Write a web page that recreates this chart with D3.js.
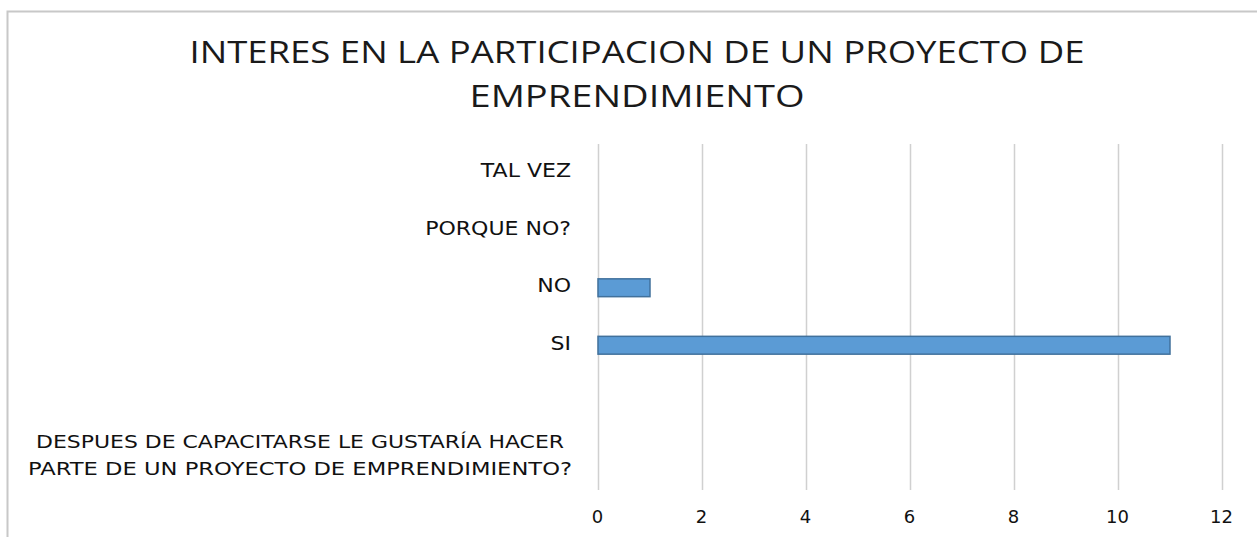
<!DOCTYPE html>
<html><head><meta charset="utf-8">
<script src="https://cdn.jsdelivr.net/npm/d3@7"></script>
<style>body{margin:0;background:#fff;} svg{display:block;}</style>
</head><body>
<svg id="c" width="1257" height="537"></svg>
<script>
const categories = ["TAL VEZ","PORQUE NO?","NO","SI","","DESPUES DE CAPACITARSE LE GUSTARÍA HACER|PARTE DE UN PROYECTO DE EMPRENDIMIENTO?"];
const values = [0,0,1,11,null,null];
const xTicks = [0,2,4,6,8,10,12];
const titleLines = ["INTERES EN LA PARTICIPACION DE UN PROYECTO DE","EMPRENDIMIENTO"];

const svg = d3.select("#c");
const font = "'Liberation Sans Narrow','Open Sans',sans-serif";
const lblFont = "'DejaVu Sans',sans-serif";

// border
svg.append("path").attr("d","M7.5,537 L7.5,11.5 L1257,11.5").attr("fill","none").attr("stroke","#c8c8c8").attr("stroke-width",2);

// title
const tw = [895, 335];
titleLines.forEach((t,i)=>{
  svg.append("text").attr("x",637).attr("y",63+i*44).attr("text-anchor","middle")
    .attr("font-family",font).attr("font-size",31).attr("fill","#1a1a1a")
    .attr("textLength",tw[i]).attr("lengthAdjust","spacingAndGlyphs").text(t);
});

const x = d3.scaleLinear().domain([0,12]).range([598,1222]);
const y = d3.scaleBand().domain(categories).range([144,489]).paddingInner(0.69).paddingOuter(0.345);

// gridlines
svg.append("g").selectAll("line").data(xTicks).join("line")
  .attr("x1",d=>x(d)+0.5).attr("x2",d=>x(d)+0.5).attr("y1",144).attr("y2",490)
  .attr("stroke","#d0d0d0").attr("stroke-width",1.5);

// x tick labels via axis
const xa = svg.append("g").attr("transform","translate(-1,517)")
  .call(d3.axisBottom(x).tickValues(xTicks).tickSize(0).tickPadding(0).tickFormat(d3.format("d")));
xa.select(".domain").remove();
xa.selectAll("text").attr("font-family",lblFont).attr("font-size",18).attr("fill","#111").attr("dy","0.35em");

// bars
svg.append("g").selectAll("rect").data(categories.map((c,i)=>({c,v:values[i]})).filter(d=>d.v))
  .join("rect").attr("x",x(0)).attr("y",d=>y(d.c)).attr("width",d=>x(d.v)-x(0)).attr("height",y.bandwidth())
  .attr("fill","#5b9bd5").attr("stroke","#41719c").attr("stroke-width",1.5);

// category labels
const lg = svg.append("g");
categories.forEach(c=>{
  if(!c) return;
  const parts = c.split("|");
  const cy = y(c)+y.bandwidth()/2;
  if(parts.length===1){
    lg.append("g").attr("transform",`translate(571,${cy-2}) scale(1.16,1)`)
      .append("text").attr("x",0).attr("y",0).attr("dy","0.35em").attr("text-anchor","end")
      .attr("font-family",lblFont).attr("font-size",19).attr("fill","#111").text(c);
  } else {
    const lw = [528, 544];
    parts.forEach((p,i)=>{
      lg.append("text").attr("x",300).attr("y",442+i*27).attr("dy","0.35em").attr("text-anchor","middle")
        .attr("font-family",lblFont).attr("font-size",17).attr("fill","#111")
        .attr("textLength",lw[i]).attr("lengthAdjust","spacingAndGlyphs").text(p);
    });
  }
});
</script>
</body></html>
